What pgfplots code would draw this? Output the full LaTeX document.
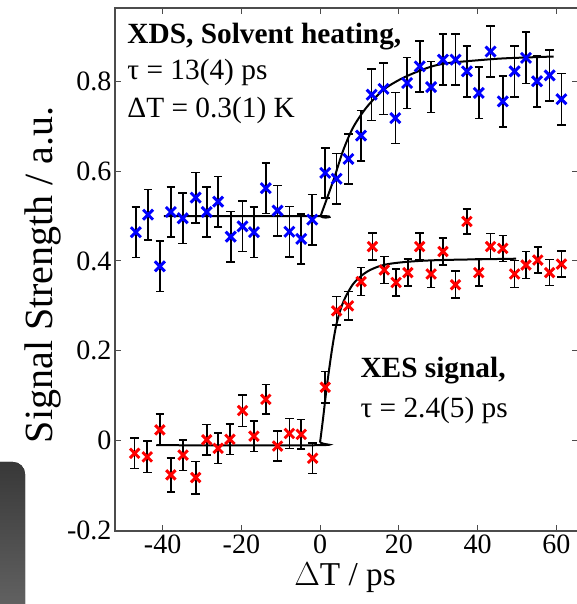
\documentclass[border=0pt]{standalone}
\usepackage{pgfplots}
\pgfplotsset{compat=1.18}
\usepackage{pgfplotstable}
\usepackage{fontspec}
\setmainfont{Liberation Serif}

\pgfplotstableread{
x y e
-46.8 0.464 0.056
-43.7 0.503 0.056
-40.7 0.388 0.056
-37.9 0.509 0.056
-34.9 0.495 0.056
-31.6 0.541 0.056
-28.8 0.509 0.056
-25.9 0.532 0.056
-22.7 0.454 0.056
-19.7 0.477 0.056
-16.8 0.464 0.056
-13.8 0.562 0.056
-10.8 0.512 0.056
-7.8 0.465 0.056
-4.8 0.449 0.056
-2.0 0.492 0.056
1.3 0.596 0.056
4.2 0.583 0.056
7.2 0.627 0.056
10.4 0.679 0.056
13.1 0.770 0.057
16.1 0.783 0.057
19.1 0.718 0.057
22.1 0.796 0.057
25.3 0.833 0.057
28.2 0.787 0.057
31.2 0.848 0.057
34.4 0.848 0.057
37.3 0.822 0.057
40.3 0.774 0.057
43.3 0.866 0.057
46.4 0.755 0.057
49.4 0.822 0.057
52.3 0.852 0.057
55.1 0.800 0.057
58.3 0.813 0.057
61.3 0.760 0.057
}\xds

\pgfplotstableread{
x y e
-47.1 -0.028 0.034
-43.9 -0.036 0.035
-40.7 0.024 0.035
-37.9 -0.076 0.038
-34.8 -0.032 0.034
-31.6 -0.082 0.036
-28.8 0.002 0.034
-25.9 -0.017 0.034
-22.9 0.003 0.034
-19.7 0.067 0.035
-16.8 0.010 0.034
-13.8 0.092 0.033
-10.8 -0.012 0.033
-7.8 0.016 0.033
-4.8 0.014 0.033
-1.9 -0.039 0.034
1.3 0.119 0.035
4.2 0.289 0.032
7.2 0.300 0.032
10.4 0.354 0.031
13.3 0.432 0.030
16.3 0.380 0.030
19.3 0.352 0.030
22.3 0.374 0.030
25.3 0.432 0.030
28.2 0.371 0.030
31.2 0.421 0.030
34.4 0.347 0.030
37.3 0.488 0.028
40.3 0.374 0.030
43.3 0.432 0.029
46.4 0.428 0.029
49.4 0.371 0.030
52.3 0.391 0.030
55.3 0.402 0.029
58.3 0.374 0.029
61.3 0.393 0.029
}\xes

\pgfplotstableread{
x y
-39.7 0.500
0.0 0.500
0.2 0.502
3.4 0.580
5.9 0.647
8.5 0.699
11.9 0.743
16.1 0.781
20.3 0.804
24.6 0.821
28.8 0.834
33.0 0.841
40.6 0.847
47.0 0.851
59.3 0.855
}\xdsfit

\pgfplotstableread{
x y
-41.6 -0.010
-0.3 -0.010
0.0 -0.002
0.7 0.046
1.7 0.120
3.0 0.202
4.2 0.261
5.9 0.309
8.5 0.350
11.9 0.376
16.1 0.391
22.0 0.398
30.5 0.402
49.8 0.405
}\xesfit

\begin{document}
\begin{tikzpicture}
\useasboundingbox (0,0) rectangle (432.75pt,453pt);
\fill[top color=black!78, bottom color=black!62, draw=none]
  (0,0) -- (18.75pt,0) -- (18.75pt,97.5pt) arc[start angle=0,end angle=90,radius=9pt] -- (0,106.5pt) -- cycle;
\begin{axis}[
  at={(86.25pt,54.75pt)}, anchor=south west,
  scale only axis, width=347.25pt, height=392.25pt,
  xmin=-52.1, xmax=65.5, ymin=-0.201, ymax=0.963,
  xtick={-40,-20,0,20,40,60}, xticklabels={-40,-20,0,20,40,60},
  ytick={-0.2,0,0.2,0.4,0.6,0.8}, yticklabels={-0.2,0,0.2,0.4,0.6,0.8},
  tick label style={font=\fontsize{21}{21}\selectfont},
  yticklabel style={inner sep=0pt, xshift=-2.5pt},
  xticklabel style={inner sep=0pt, yshift=-3pt},
  axis line style={black!70, line width=0.9pt},
  tick style={black!70, line width=0.8pt},
  major tick length=4.5pt,
  xlabel={$\Delta$T / ps},
  ylabel={Signal Strength / a.u.},
  xlabel style={font=\fontsize{25}{25}\selectfont, at={(axis description cs:0.497,-0.105)}, anchor=base},
  ylabel style={font=\fontsize{30}{30}\selectfont, at={(axis description cs:-0.136,0.49)}, anchor=base},
  clip=false,
]
\addplot[only marks, mark=x, mark size=5.3pt, blue, mark options={line width=2.2pt},
  error bars/.cd, y dir=both, y explicit,
  error bar style={black, line width=1.2pt},
  error mark options={black, line width=1.2pt, mark size=3.2pt, rotate=90}]
  table[x=x, y=y, y error=e]{\xds};
\addplot[only marks, mark=x, mark size=5pt, red, mark options={line width=2.2pt},
  error bars/.cd, y dir=both, y explicit,
  error bar style={black, line width=1.2pt},
  error mark options={black, line width=1.2pt, mark size=3.2pt, rotate=90}]
  table[x=x, y=y, y error=e]{\xes};
\addplot[black, line width=1.5pt, smooth, no marks] table[x=x,y=y]{\xdsfit};
\addplot[black, line width=1.5pt, smooth, no marks] table[x=x,y=y]{\xesfit};
\node[anchor=base west, inner sep=0pt, font=\fontsize{22}{22}\selectfont\bfseries] at (axis cs:-49.0,0.885) {XDS, Solvent heating,};
\node[anchor=base west, inner sep=0pt, font=\fontsize{22}{22}\selectfont] at (axis cs:-49.0,0.803) {τ = 13(4) ps};
\node[anchor=base west, inner sep=0pt, font=\fontsize{22}{22}\selectfont] at (axis cs:-49.0,0.720) {ΔT = 0.3(1) K};
\node[anchor=base west, inner sep=0pt, font=\fontsize{22}{22}\selectfont\bfseries] at (axis cs:10.2,0.140) {XES signal,};
\node[anchor=base west, inner sep=0pt, font=\fontsize{22}{22}\selectfont] at (axis cs:10.2,0.051) {τ = 2.4(5) ps};
\end{axis}
\end{tikzpicture}
\end{document}
